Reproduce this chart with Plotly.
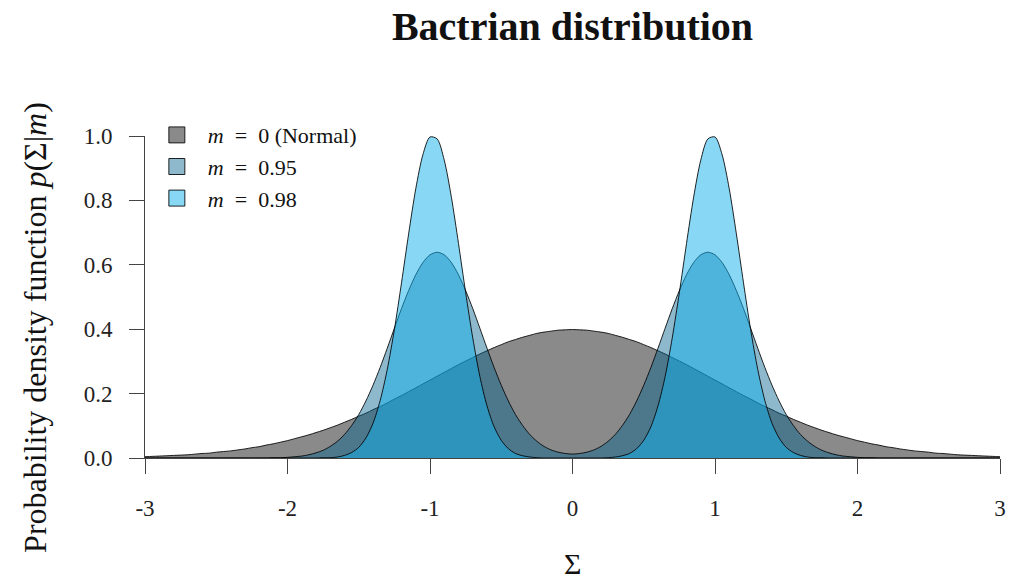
import numpy as np
import plotly.graph_objects as go

# Sample grid (Sigma) from -3 to 3, step 0.05
sigma = np.round(np.arange(-3.0, 3.0001, 0.05), 2).tolist()

# m = 0 (Normal)
dens_m0 = [
    0.004, 0.005, 0.006, 0.007, 0.008, 0.009, 0.010, 0.012, 0.014, 0.015,
    0.018, 0.020, 0.022, 0.025, 0.028, 0.032, 0.035, 0.040, 0.044, 0.049,
    0.054, 0.060, 0.066, 0.072, 0.079, 0.086, 0.094, 0.102, 0.111, 0.120,
    0.130, 0.139, 0.150, 0.160, 0.171, 0.183, 0.194, 0.206, 0.218, 0.230,
    0.242, 0.254, 0.266, 0.278, 0.290, 0.301, 0.312, 0.323, 0.333, 0.343,
    0.352, 0.361, 0.368, 0.375, 0.381, 0.387, 0.391, 0.394, 0.397, 0.398,
    0.399, 0.398, 0.397, 0.394, 0.391, 0.387, 0.381, 0.375, 0.368, 0.361,
    0.352, 0.343, 0.333, 0.323, 0.312, 0.301, 0.290, 0.278, 0.266, 0.254,
    0.242, 0.230, 0.218, 0.206, 0.194, 0.183, 0.171, 0.160, 0.150, 0.139,
    0.130, 0.120, 0.111, 0.102, 0.094, 0.086, 0.079, 0.072, 0.066, 0.060,
    0.054, 0.049, 0.044, 0.040, 0.035, 0.032, 0.028, 0.025, 0.022, 0.020,
    0.018, 0.015, 0.014, 0.012, 0.010, 0.009, 0.008, 0.007, 0.006, 0.005,
    0.004,
]

# m = 0.95
dens_m095 = [
    0, 0, 0, 0, 0, 0, 0, 0, 0, 0,
    0, 0, 0, 0, 0, 0, 0, 0, 0.001, 0.001,
    0.002, 0.004, 0.006, 0.010, 0.016, 0.024, 0.036, 0.052, 0.073, 0.101,
    0.135, 0.177, 0.226, 0.281, 0.341, 0.403, 0.464, 0.520, 0.569, 0.607,
    0.631, 0.639, 0.631, 0.607, 0.569, 0.520, 0.464, 0.403, 0.341, 0.281,
    0.226, 0.177, 0.135, 0.101, 0.073, 0.052, 0.036, 0.025, 0.018, 0.014,
    0.012, 0.014, 0.018, 0.025, 0.036, 0.052, 0.073, 0.101, 0.135, 0.177,
    0.226, 0.281, 0.341, 0.403, 0.464, 0.520, 0.569, 0.607, 0.631, 0.639,
    0.631, 0.607, 0.569, 0.520, 0.464, 0.403, 0.341, 0.281, 0.226, 0.177,
    0.135, 0.101, 0.073, 0.052, 0.036, 0.024, 0.016, 0.010, 0.006, 0.004,
    0.002, 0.001, 0.001, 0, 0, 0, 0, 0, 0, 0,
    0, 0, 0, 0, 0, 0, 0, 0, 0, 0,
    0,
]

# m = 0.98
dens_m098 = [
    0, 0, 0, 0, 0, 0, 0, 0, 0, 0,
    0, 0, 0, 0, 0, 0, 0, 0, 0, 0,
    0, 0, 0, 0, 0, 0.001, 0.001, 0.003, 0.008, 0.017,
    0.033, 0.062, 0.108, 0.178, 0.275, 0.399, 0.544, 0.696, 0.836, 0.942,
    0.997, 0.991, 0.925, 0.810, 0.666, 0.514, 0.373, 0.253, 0.162, 0.097,
    0.055, 0.029, 0.014, 0.007, 0.003, 0.001, 0, 0, 0, 0,
    0, 0, 0, 0, 0, 0.001, 0.003, 0.007, 0.014, 0.029,
    0.055, 0.097, 0.162, 0.253, 0.373, 0.514, 0.666, 0.810, 0.925, 0.991,
    0.997, 0.942, 0.836, 0.696, 0.544, 0.399, 0.275, 0.178, 0.108, 0.062,
    0.033, 0.017, 0.008, 0.003, 0.001, 0.001, 0, 0, 0, 0,
    0, 0, 0, 0, 0, 0, 0, 0, 0, 0,
    0, 0, 0, 0, 0, 0, 0, 0, 0, 0,
    0,
]

series_names = [
    "<i>m</i>\u2002=\u20020 (Normal)",
    "<i>m</i>\u2002=\u20020.95",
    "<i>m</i>\u2002=\u20020.98",
]
series_values = [dens_m0, dens_m095, dens_m098]
series_fills = ["rgba(0,0,0,0.46)", "rgba(0,97,142,0.445)", "rgba(15,175,235,0.5)"]

x_tick_vals = [-3, -2, -1, 0, 1, 2, 3]
x_tick_text = ["-3", "-2", "-1", "0", "1", "2", "3"]
y_tick_vals = [0.0, 0.2, 0.4, 0.6, 0.8, 1.0]
y_tick_text = ["0.0", "0.2", "0.4", "0.6", "0.8", "1.0"]

FONT = "Liberation Serif, Times New Roman, serif"

fig = go.Figure()
for name, vals, fc in zip(series_names, series_values, series_fills):
    fig.add_trace(go.Scatter(
        x=sigma, y=vals, mode="lines", fill="tozeroy", fillcolor=fc,
        line=dict(color="rgba(0,0,0,0.85)", width=1, shape="spline", smoothing=0.8),
        showlegend=False, hoverinfo="skip",
    ))
for name, fc in zip(series_names, series_fills):
    fig.add_trace(go.Scatter(
        x=[None], y=[None], mode="markers", name=name,
        marker=dict(symbol="square", size=17, color=fc,
                    line=dict(color="rgba(0,0,0,0.85)", width=1)),
    ))

axis_common = dict(
    showgrid=False, zeroline=False, showline=True, linecolor="#444",
    linewidth=1, ticks="outside", ticklen=15, tickcolor="#444", tickwidth=1,
    tickfont=dict(family=FONT, size=23, color="#222"),
)

fig.update_layout(
    width=1023, height=582,
    margin=dict(l=145, r=23, t=136, b=124),
    paper_bgcolor="white", plot_bgcolor="white",
    title=dict(text="<b>Bactrian distribution</b>", x=0.5, xref="paper",
               y=1 - 26 / 582, yref="container", xanchor="center", yanchor="middle",
               font=dict(family=FONT, size=40, color="#111")),
    xaxis=dict(range=[-3, 3], tickvals=x_tick_vals, ticktext=x_tick_text,
               ticklabelstandoff=14, **axis_common),
    yaxis=dict(range=[0, 1], tickvals=y_tick_vals, ticktext=y_tick_text,
               ticklabelstandoff=12, **axis_common),
    legend=dict(x=0.001, y=1.068, xanchor="left", yanchor="top",
                bgcolor="rgba(0,0,0,0)", font=dict(family=FONT, size=22, color="#111"),
                itemwidth=52),
    annotations=[
        dict(text="Σ", xref="paper", yref="paper", x=0.5, y=-0.327,
             showarrow=False, xanchor="center", yanchor="middle",
             font=dict(family=FONT, size=30, color="#111")),
        dict(text="Probability density function <i>p</i>(Σ|<i>m</i>)",
             xref="paper", yref="paper", x=-0.1287, y=0.407, textangle=-90,
             showarrow=False, xanchor="center", yanchor="middle",
             font=dict(family=FONT, size=32, color="#111")),
    ],
)

fig.write_html("out.html", config={"displayModeBar": False},
               post_script="document.body.style.margin='0px';")
